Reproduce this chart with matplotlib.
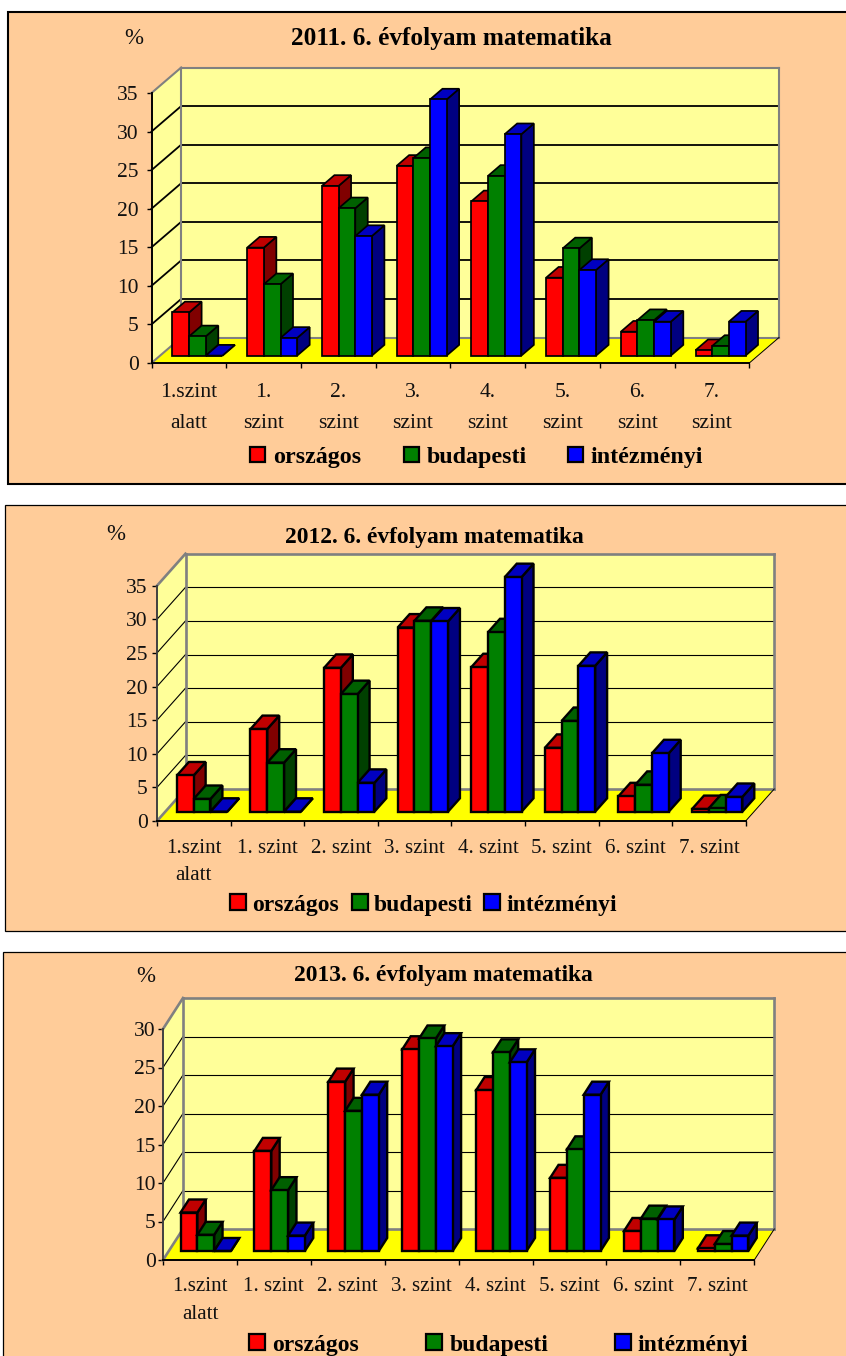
import matplotlib
matplotlib.use("Agg")
import matplotlib.pyplot as plt
from matplotlib.patches import Rectangle

plt.rcParams['font.family'] = ['Liberation Serif', 'DejaVu Serif']

W, H = 846, 1356
DPI = 100

# ---------- data ----------
series_names = ['országos', 'budapesti', 'intézményi']
labels_2011 = ['1.szint\nalatt', '1.\nszint', '2.\nszint', '3.\nszint',
               '4.\nszint', '5.\nszint', '6.\nszint', '7.\nszint']
labels_other = ['1.szint\nalatt', '1. szint', '2. szint', '3. szint',
                '4. szint', '5. szint', '6. szint', '7. szint']

orszagos_2011 = [5.6, 14.0, 22.0, 24.6, 20.0, 10.1, 3.1, 0.7]
budapesti_2011 = [2.5, 9.25, 19.1, 25.6, 23.3, 13.9, 4.6, 1.25]
intezmenyi_2011 = [0.0, 2.3, 15.5, 33.2, 28.7, 11.1, 4.4, 4.4]

orszagos_2012 = [5.4, 12.3, 21.4, 27.4, 21.5, 9.5, 2.3, 0.4]
budapesti_2012 = [1.9, 7.3, 17.5, 28.4, 26.7, 13.5, 4.0, 0.5]
intezmenyi_2012 = [0.0, 0.0, 4.3, 28.3, 34.9, 21.7, 8.7, 2.2]

orszagos_2013 = [5.0, 13.0, 22.0, 26.2, 20.9, 9.5, 2.6, 0.35]
budapesti_2013 = [2.1, 7.9, 18.2, 27.6, 25.8, 13.2, 4.2, 0.9]
intezmenyi_2013 = [0.0, 2.0, 20.3, 26.6, 24.5, 20.3, 4.1, 2.0]

# ---------- style ----------
BG = '#FFCC99'
WALL = '#FFFF99'
FLOOR = '#FFFF00'
GREY = '#808080'
FRONT = ['#FF0000', '#008000', '#0000FF']
TOP = ['#C00000', '#006000', '#0000C0']
SIDE = ['#800000', '#004000', '#000080']

panels = [
    dict(title='2011. 6. évfolyam matematika', vals=(orszagos_2011, budapesti_2011, intezmenyi_2011),
         labels=labels_2011, ymax=35,
         box=(8, 12.3, 860, 472), box_lw=1.5,
         left=151.5, right=749.3, y0=363, ytop=93, dx=29.7, dy=25.5, group=50,
         title_xy=(451, 39), title_fs=18.2, pct=(134, 38), tick_pad=5.5, lab_pad=14.7, ls=1.84,
         bar_lw=1.25, grid_lw=1.3, wall_lw=1.5, axis_c='#000000', lab_fs=15.6,
         leg=[(250, 272.7), (404, 427), (567.7, 590.7)], leg_y=454, leg_s=15, leg_fs=17.3),
    dict(title='2012. 6. évfolyam matematika', vals=(orszagos_2012, budapesti_2012, intezmenyi_2012),
         labels=labels_other, ymax=35,
         box=(5.3, 505, 860, 425.7), box_lw=0.9,
         left=157, right=745.7, y0=821, ytop=585.7, dx=28.5, dy=32, group=50.3,
         title_xy=(434, 537), title_fs=16.9, pct=(116, 534), tick_pad=3.2, lab_pad=13, ls=1.59,
         bar_lw=1.7, grid_lw=0.8, wall_lw=1.9, axis_c='#404040', lab_fs=15.1,
         leg=[(230, 252), (351.7, 374), (484.3, 506.7)], leg_y=902, leg_s=16, leg_fs=17),
    dict(title='2013. 6. évfolyam matematika', vals=(orszagos_2013, budapesti_2013, intezmenyi_2013),
         labels=labels_other, ymax=30,
         box=(2.7, 951.7, 860, 460), box_lw=0.9,
         left=163, right=754.3, y0=1260, ytop=1029, dx=20, dy=31, group=50.4,
         title_xy=(443, 975), title_fs=16.9, pct=(146, 976), tick_pad=1.8, lab_pad=12.5, ls=1.62,
         bar_lw=1.7, grid_lw=0.8, wall_lw=1.9, axis_c='#404040', lab_fs=15.1,
         leg=[(249.3, 271.7), (426, 449.3), (615, 637.3)], leg_y=1342, leg_s=16, leg_fs=17),
]

D0, D1 = 0.29, 0.71  # front / back of bars within the floor depth

fig = plt.figure(figsize=(W / DPI, H / DPI), dpi=DPI, facecolor='white')

# Overlay in pixel units for frames, titles, legends
ov = fig.add_axes([0, 0, 1, 1], zorder=0)
ov.set_xlim(0, W)
ov.set_ylim(H, 0)
ov.axis('off')

for p in panels:
    x, y, w, h = p['box']
    ov.add_patch(Rectangle((x, y), w, h, facecolor=BG, edgecolor='black', linewidth=p['box_lw']))
    ov.text(*p['title_xy'], p['title'], ha='center', va='center', fontsize=p['title_fs'],
            fontweight='bold', color='black')
    ov.text(*p['pct'], '%', ha='center', va='center', fontsize=16.5, color='#111111')

    # legend
    for (bx, tx), name, col in zip(p['leg'], series_names, FRONT):
        s = p['leg_s']
        ov.add_patch(Rectangle((bx, p['leg_y'] - s / 2), s, s, facecolor=col,
                               edgecolor='black', linewidth=1.6))
        ov.text(tx, p['leg_y'] + 3, name, ha='left', va='center', fontsize=p['leg_fs'],
                fontweight='bold', color='black')

    # Chart axes: front plane of the 3-D box
    ax = fig.add_axes([p['left'] / W, 1 - p['y0'] / H,
                       (p['right'] - p['left']) / W, (p['y0'] - p['ytop']) / H], zorder=1)
    ax.patch.set_visible(False)
    n = len(p['labels'])
    ymax = p['ymax']
    ax.set_xlim(0, n)
    ax.set_ylim(0, ymax)
    cat_w = (p['right'] - p['left']) / n
    px_per_unit = (p['y0'] - p['ytop']) / ymax
    DX = p['dx'] / cat_w
    DY = p['dy'] / px_per_unit

    def proj(c, v, d):
        return c + d * DX, v + d * DY

    def poly(pts, **kw):
        xs, ys = zip(*[proj(*q) for q in pts])
        ax.fill(xs, ys, clip_on=False, **kw)

    def seg(a, b, **kw):
        xs, ys = zip(proj(*a), proj(*b))
        ax.plot(xs, ys, clip_on=False, solid_capstyle='projecting', **kw)

    # walls and floor
    poly([(0, 0, 1), (n, 0, 1), (n, ymax, 1), (0, ymax, 1)], facecolor=WALL, edgecolor='none', zorder=1)
    poly([(0, 0, 0), (0, ymax, 0), (0, ymax, 1), (0, 0, 1)], facecolor=WALL, edgecolor='none', zorder=1)
    poly([(0, 0, 0), (n, 0, 0), (n, 0, 1), (0, 0, 1)], facecolor=FLOOR, edgecolor='none', zorder=1)

    # gridlines
    ticks = list(range(0, ymax + 1, 5))
    for t in ticks[1:-1]:
        seg((0, t, 0), (0, t, 1), color='black', lw=p['grid_lw'], zorder=2)
        seg((0, t, 1), (n, t, 1), color='black', lw=p['grid_lw'], zorder=2)

    # grey wall border
    for a, b in [((0, ymax, 0), (0, ymax, 1)), ((0, ymax, 1), (n, ymax, 1)),
                 ((n, ymax, 1), (n, 0, 1)), ((0, ymax, 1), (0, 0, 1)),
                 ((0, 0, 1), (n, 0, 1)), ((0, 0, 0), (0, 0, 1))]:
        seg(a, b, color=GREY, lw=p['wall_lw'], zorder=2.2)
    seg((n, 0, 0), (n, 0, 1), color='black', lw=0.7, zorder=2.2)

    # 3-D bars
    gap = (1 - p['group'] / cat_w) / 2
    bw = p['group'] / cat_w / 3
    z = 3.0
    for c in range(n):
        for s, vals in enumerate(p['vals']):
            v = vals[c]
            x0 = c + gap + s * bw
            x1 = x0 + bw
            kw = dict(edgecolor='black', linewidth=p['bar_lw'], joinstyle='miter')
            poly([(x1, 0, D0), (x1, 0, D1), (x1, v, D1), (x1, v, D0)], facecolor=SIDE[s], zorder=z, **kw)
            poly([(x0, v, D0), (x1, v, D0), (x1, v, D1), (x0, v, D1)], facecolor=TOP[s], zorder=z + 0.01, **kw)
            ax.bar(x0 + D0 * DX, v, width=bw, bottom=D0 * DY, align='edge', color=FRONT[s],
                   edgecolor='black', linewidth=p['bar_lw'], zorder=z + 0.02, clip_on=False)
            z += 0.1

    # axes decoration
    for sp in ('top', 'right'):
        ax.spines[sp].set_visible(False)
    ax.spines['left'].set_color(p['axis_c'])
    ax.spines['left'].set_linewidth(1.4)
    ax.spines['bottom'].set_color('black')
    ax.spines['bottom'].set_linewidth(1.4)
    ax.set_yticks(ticks)
    ax.set_yticklabels([str(t) for t in ticks])
    ax.tick_params(axis='y', length=3.6, width=1.0, pad=p['tick_pad'], labelsize=15.5, color='black',
                   labelcolor='#111111')
    ax.set_xticks(range(n + 1))
    ax.set_xticklabels([])
    ax.tick_params(axis='x', which='major', length=3.6, width=1.0, color='black')
    ax.set_xticks([i + 0.5 for i in range(n)], minor=True)
    ax.set_xticklabels(p['labels'], minor=True, ha='center', va='top')
    ax.tick_params(axis='x', which='minor', length=0, pad=p['lab_pad'], labelsize=p['lab_fs'],
                   labelcolor='#111111')
    for lab in ax.get_xticklabels(minor=True):
        lab.set_linespacing(p['ls'])

fig.savefig('out.png', dpi=DPI, facecolor='white')
